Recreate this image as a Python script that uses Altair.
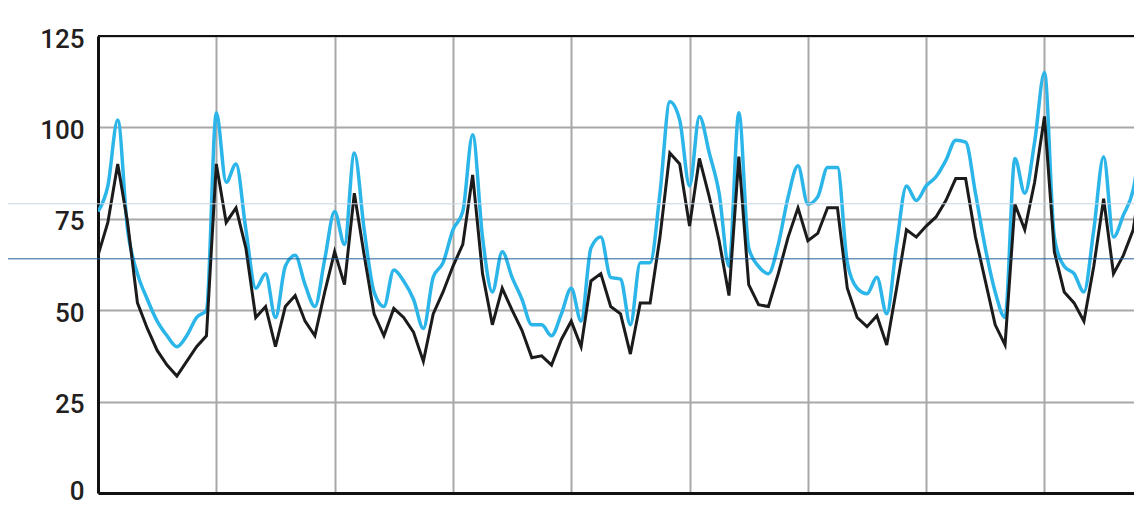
import altair as alt
import pandas as pd

# monthly index (gridline every 12 months)
months = list(range(107))

black_series = [
    65, 74, 90, 74, 52, 45, 39, 35, 32, 36, 40, 43, 90, 74, 78, 67, 48, 51, 40,
    51, 54, 47, 43, 55, 66, 57, 82, 65, 49, 43, 50.5, 48, 44, 36, 49, 55, 62,
    68, 87, 60, 46, 56, 50, 44.5, 37, 37.5, 35, 42, 47, 40, 58, 60, 51, 49,
    38, 52, 52, 70, 93, 90, 73, 91.5, 81, 69, 54, 92, 57, 51.5, 51, 60, 70, 78,
    69, 71, 78, 78, 56, 48, 45.5, 48.5, 40.5, 56, 72, 70, 73, 75.5, 80, 86, 86,
    70, 58, 46, 40.5, 79, 72, 85, 103, 66, 55, 52, 47, 62, 80.5, 60, 65, 72, 90,
]

blue_series = [
    77, 84, 102, 72, 60, 53, 47, 43, 40, 43, 48, 50, 104, 85, 90, 72, 56, 60, 48,
    62, 65, 57, 51, 64, 77, 68, 93, 72, 55, 51, 61, 58, 53, 45, 59, 63, 72,
    77, 98, 70, 55, 66, 59, 53, 46, 46, 43, 49, 56, 47, 67, 70, 59, 58.5,
    46, 63, 63, 82, 107, 102, 84, 103, 93, 82, 62, 104, 67, 62, 60, 68, 81, 89.5,
    79, 81, 89, 89, 63, 56, 54.5, 59, 49, 68, 84, 80, 84, 86.5, 91, 96.5, 96,
    82, 67, 55, 48, 91.5, 82, 96, 115, 70, 62, 60, 55, 72, 92, 70, 76, 83, 101,
]

y_ticks = [0, 25, 50, 75, 100, 125]
year_marks = [0, 12, 24, 36, 48, 60, 72, 84, 96]
x_domain = [0, 105.08]
y_domain = [0, 125]

# stray thin horizontal lines visible in the reference
stray_levels = [79.1, 64.05]
stray_colors = ["#c9d6e3", "#1f5f9c"]

df = pd.DataFrame({"month": months, "black": black_series, "blue": blue_series})

PLOT_W = 1036
PLOT_H = 457

x_axis = alt.Axis(
    values=year_marks, grid=True, labels=False, ticks=False, title=None,
    domain=True, domainColor="#111111", domainWidth=3,
    gridColor="#a8a8a8", gridWidth=2,
)
x_scale = alt.Scale(domain=x_domain, nice=False, zero=False)

y_axis = alt.Axis(
    values=y_ticks, grid=True, ticks=False, title=None,
    domain=True, domainColor="#111111", domainWidth=3,
    gridColor="#a8a8a8", gridWidth=2,
    labelFont="Roboto", labelFontSize=26, labelFontWeight=500,
    labelColor="#231f20",
    labelPadding=14,
    labelOffset={"expr": "datum.value == 0 ? -2 : 3"},
)
y_scale = alt.Scale(domain=y_domain, nice=False)


def yenc(field):
    return alt.Y(field, scale=y_scale, axis=y_axis)


x_enc = alt.X("month:Q", scale=x_scale, axis=x_axis)

blue_line = alt.Chart(df).mark_line(
    color="#2bb5e8", strokeWidth=3.5, interpolate="monotone", clip=True
).encode(x=x_enc, y=yenc("blue:Q"))

black_line = alt.Chart(df).mark_line(
    color="#1b1b1b", strokeWidth=3, clip=True
).encode(x=x_enc, y=yenc("black:Q"))

top_frame = alt.Chart(pd.DataFrame({"v": [125]})).mark_rule(
    color="#111111", strokeWidth=2
).encode(y=yenc("v:Q"))

stray = alt.Chart(pd.DataFrame({"v": stray_levels, "c": stray_colors})).mark_rule(
    strokeWidth=1, clip=False
).encode(
    y=yenc("v:Q"),
    x=alt.value(-90), x2=alt.value(PLOT_W),
    color=alt.Color("c:N", scale=None),
)

chart = alt.layer(blue_line, black_line, top_frame, stray).properties(
    width=PLOT_W, height=PLOT_H,
    autosize=alt.AutoSizeParams(type="none"),
    padding={"left": 90, "top": 28, "right": 0, "bottom": 12},
    background="white",
).configure_view(stroke=None)

chart.save("out.html", embed_options={"renderer": "svg", "actions": False})
